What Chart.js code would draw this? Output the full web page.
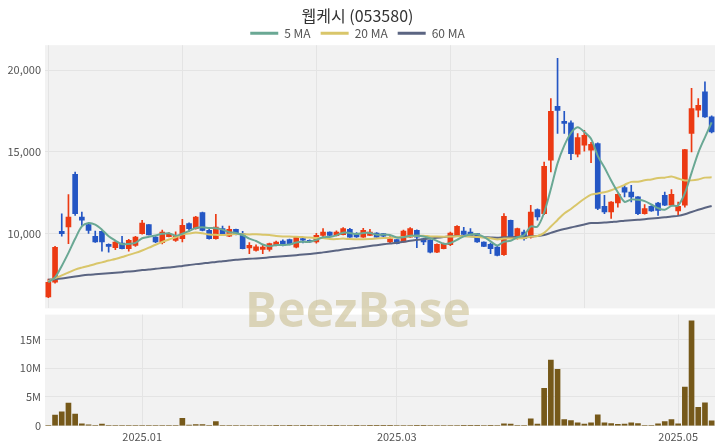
<!DOCTYPE html>
<html><head><meta charset="utf-8">
<script src="https://cdn.jsdelivr.net/npm/chart.js@4/dist/chart.umd.min.js"></script>
<style>
html,body{margin:0;padding:0;background:#fff;}
#wrap{position:relative;width:720px;height:448px;overflow:hidden;}
#c1{position:absolute;left:0;top:0;}
#c2{position:absolute;left:0;top:304px;}
#wm{position:absolute;left:0;width:716px;top:280px;text-align:center;font-family:'Open Sans',sans-serif;font-weight:700;font-size:48px;line-height:58px;color:rgba(200,188,140,0.58);pointer-events:none;}
</style></head><body>
<div id="wrap">
<canvas id="c1" width="720" height="319"></canvas>
<canvas id="c2" width="720" height="144"></canvas>
<div id="wm">BeezBase</div>
</div>
<script>
const dates = [
'2024-12-10','2024-12-11','2024-12-12','2024-12-13','2024-12-16','2024-12-17','2024-12-18','2024-12-19','2024-12-20','2024-12-23',
'2024-12-24','2024-12-26','2024-12-27','2024-12-30','2025-01-02','2025-01-03','2025-01-06','2025-01-07','2025-01-08','2025-01-09',
'2025-01-10','2025-01-13','2025-01-14','2025-01-15','2025-01-16','2025-01-17','2025-01-20','2025-01-21','2025-01-22','2025-01-23',
'2025-01-24','2025-01-31','2025-02-03','2025-02-04','2025-02-05','2025-02-06','2025-02-07','2025-02-10','2025-02-11','2025-02-12',
'2025-02-13','2025-02-14','2025-02-17','2025-02-18','2025-02-19','2025-02-20','2025-02-21','2025-02-24','2025-02-25','2025-02-26',
'2025-02-27','2025-02-28','2025-03-04','2025-03-05','2025-03-06','2025-03-07','2025-03-10','2025-03-11','2025-03-12','2025-03-13',
'2025-03-14','2025-03-17','2025-03-18','2025-03-19','2025-03-20','2025-03-21','2025-03-24','2025-03-25','2025-03-26','2025-03-27',
'2025-03-28','2025-03-31','2025-04-01','2025-04-02','2025-04-03','2025-04-04','2025-04-07','2025-04-08','2025-04-09','2025-04-10',
'2025-04-11','2025-04-14','2025-04-15','2025-04-16','2025-04-17','2025-04-18','2025-04-21','2025-04-22','2025-04-23','2025-04-24',
'2025-04-25','2025-04-28','2025-04-29','2025-04-30','2025-05-02','2025-05-07','2025-05-08','2025-05-09','2025-05-12','2025-05-13'];

const openP = [6100,7000,10120,10390,13620,11000,10530,9820,10120,9320,
 9120,9400,9060,9260,9980,10530,9770,9430,9800,9570,
 9680,10600,10290,11270,10180,9680,10290,9830,10240,9980,
 9100,8950,9020,9020,9260,9530,9610,9160,9680,9570,
 9470,9880,10080,9860,9920,10250,9980,9770,9880,10020,
 9980,9470,9610,9470,9770,10180,9670,9570,8850,9060,
 9310,9820,10140,10080,9980,9460,9330,9160,8700,10800,
 9680,10080,9770,11450,11210,14480,17790,16870,16770,14850,
 15400,15090,15500,11660,11310,11860,12800,12530,12230,11210,
 11660,11860,12330,11720,11370,11720,16120,17550,18670,17140];
const highP = [7200,9200,11200,12370,13760,11300,10600,10140,10150,9350,
 9520,9820,9630,9820,10800,10540,9800,10200,10050,10100,
 10860,10650,11050,11300,10350,11170,10450,10450,10260,10120,
 9430,9300,9310,9400,9520,9600,9650,9800,9700,9600,
 10000,10290,10100,10150,10350,10300,10050,10300,10250,10050,
 10000,9800,9620,10200,10350,10220,9700,9600,9350,9400,
 10080,10480,10370,10290,10000,9480,9400,9200,11210,10820,
 10320,10200,11720,11500,14370,18260,20720,17480,16890,16120,
 16320,15580,15550,12330,11950,12420,12940,12940,12260,11760,
 11700,11900,12530,12680,11920,15150,18880,18260,19280,17200];
const lowP = [6050,6950,9820,9370,11100,10490,10000,9450,8910,8850,
 9000,9050,8910,9200,9950,9900,9430,9350,9780,9500,
 9470,10120,10250,10150,9650,9650,9850,9800,9900,9040,
 8750,8900,8760,8900,9230,9230,9290,9100,9420,9450,
 9400,9770,9850,9840,9900,9750,9750,9750,9850,9750,
 9800,9400,9350,9450,9750,9120,9300,8800,8820,9040,
 9250,9800,9920,9860,9450,9180,8760,8620,8650,9750,
 9650,9580,9700,10800,11150,13760,16120,16120,14520,14690,
 15030,14330,11450,11200,10920,11610,12230,11920,11150,11180,
 11350,11100,11700,11700,11100,11600,14990,17140,17100,16150];
const closeP = [7000,9150,9980,11000,11210,10800,10180,9470,9470,9200,
 9470,9060,9570,9770,10630,9910,9470,10080,9950,9880,
 10490,10290,11000,10180,9680,10390,9880,10240,9920,9060,
 9260,9180,9160,9370,9470,9260,9310,9770,9580,9470,
 9880,10080,9880,10080,10290,9770,9780,10180,10080,9770,
 9820,9670,9370,10140,10290,9770,9470,8850,9330,9370,
 10020,10430,9940,9880,9470,9200,9060,8650,11040,9770,
 10290,9680,11310,11000,14110,17480,17540,16730,14890,15870,
 16010,15460,11520,11310,11920,12390,12530,12230,11210,11520,
 11370,11410,11720,12390,11660,15130,17650,17850,17140,16210];
const volume = [50000,1870000,2430000,3960000,2040000,340000,170000,100000,300000,80000,
 70000,60000,60000,90000,80000,70000,60000,50000,50000,50000,
 1300000,120000,220000,200000,80000,740000,90000,80000,60000,100000,
 90000,60000,50000,50000,40000,50000,40000,60000,40000,30000,
 50000,60000,40000,40000,50000,60000,40000,60000,40000,30000,
 30000,40000,50000,60000,70000,40000,30000,70000,60000,50000,
 60000,70000,40000,30000,40000,50000,40000,60000,340000,300000,
 100000,80000,1200000,300000,6500000,11400000,9800000,1100000,900000,500000,
 300000,500000,1900000,500000,400000,250000,300000,500000,400000,100000,
 100000,350000,750000,1100000,350000,6700000,18200000,3200000,4000000,850000];
const ma5 = [7000,7300,8000,8800,9668,10428,10634,10532,10226,9824,
 9558,9334,9354,9414,9700,9788,9870,9972,10008,9858,
 9974,10138,10322,10368,10328,10308,10226,10074,10022,9898,
 9672,9532,9316,9206,9288,9288,9314,9436,9478,9478,
 9602,9756,9778,9878,10042,10020,9960,10020,10020,9916,
 9926,9904,9742,9754,9858,9848,9808,9704,9542,9358,
 9408,9600,9818,9928,9948,9784,9510,9252,9484,9544,
 9762,9886,10418,10410,11278,12716,14288,15372,16150,16502,
 16208,15792,14750,14034,13244,12520,11934,12076,12056,11976,
 11772,11548,11446,11682,11710,12462,13708,14936,15886,16796];
const ma20 = [7050,7250,7420,7600,7780,7900,8000,8120,8220,8330,
 8430,8550,8680,8800,8950,9120,9300,9470,9620,9763,
 9937,9994,10045,10004,9928,9907,9892,9931,9953,9946,
 9936,9942,9921,9901,9843,9811,9803,9787,9769,9748,
 9718,9707,9651,9646,9677,9646,9641,9638,9646,9681,
 9709,9734,9744,9783,9824,9849,9857,9811,9799,9794,
 9801,9818,9821,9811,9770,9742,9706,9629,9677,9677,
 9701,9701,9798,9841,10032,10418,10821,11215,11493,11818,
 12118,12369,12448,12520,12642,12802,12975,13154,13163,13250,
 13304,13391,13411,13481,13358,13241,13246,13302,13415,13432];
const ma60 = [7160,7189,7232,7292,7355,7412,7458,7493,7527,7557,
 7592,7619,7655,7695,7749,7790,7825,7869,7912,7953,
 8005,8053,8113,8159,8197,8247,8288,8335,8377,8405,
 8436,8465,8495,8528,8562,8593,8625,8664,8700,8735,
 8776,8833,8887,8944,9005,9056,9109,9167,9224,9276,
 9329,9379,9424,9482,9543,9594,9642,9678,9723,9768,
 9818,9840,9839,9820,9791,9765,9746,9732,9759,9768,
 9782,9792,9821,9842,9900,10026,10160,10271,10353,10453,
 10545,10631,10640,10659,10696,10730,10774,10807,10828,10869,
 10905,10942,10984,11035,11071,11169,11308,11443,11569,11681];

const xTickMonths = ['2025-01','2025-03','2025-05'];
const xTickLabels = ['2025.01','2025.03','2025.05'];
const priceTicks = [10000,15000,20000];
const volumeTicks = [0,5000000,10000000,15000000];

const UP = '#ec3a13', DOWN = '#2456c4';
const GRID = '#e4e4e4';
const candleColor = closeP.map((c,i)=> c >= openP[i] ? UP : DOWN);
const xTickIdx = xTickMonths.map(m => dates.findIndex(d => d.startsWith(m)));

Chart.defaults.font.family = "'Noto Sans CJK KR','Noto Sans',sans-serif";
Chart.defaults.color = '#555';

const bgPlugin = {id:'plotbg', beforeDraw(chart){
  const {ctx, chartArea:a} = chart;
  ctx.save(); ctx.fillStyle = '#f2f2f2'; ctx.fillRect(a.left, a.top, a.width, a.height); ctx.restore();
}};

new Chart(document.getElementById('c1'), {
  type: 'bar',
  data: {
    labels: dates,
    datasets: [
      {type:'line', label:'5 MA', data:ma5, borderColor:'#6aa894', backgroundColor:'#6aa894', borderWidth:2, pointRadius:0, tension:0.3, order:0},
      {type:'line', label:'20 MA', data:ma20, borderColor:'#d9c66a', backgroundColor:'#d9c66a', borderWidth:2, pointRadius:0, tension:0.3, order:0},
      {type:'line', label:'60 MA', data:ma60, borderColor:'#5b6582', backgroundColor:'#5b6582', borderWidth:2, pointRadius:0, tension:0.3, order:0},
      {label:'body', data:openP.map((o,i)=>[o, closeP[i]]), backgroundColor:candleColor, barThickness:5, grouped:false, order:1},
      {label:'wick', data:lowP.map((l,i)=>[l, highP[i]]), backgroundColor:candleColor, barThickness:1, grouped:false, order:2}
    ]
  },
  options: {
    responsive:false, animation:false, devicePixelRatio:1,
    layout:{padding:{left:0, right:5, top:0, bottom:1}},
    plugins:{
      title:{display:true, text:'웹케시 (053580)', color:'#333', font:{size:16, weight:'normal'}, padding:{top:6, bottom:-8}},
      legend:{display:true, maxHeight:28, labels:{
        color:'#555', font:{size:12}, boxWidth:28, boxHeight:3, padding:10,
        filter:(it)=>/MA/.test(it.text),
        generateLabels:(chart)=> chart.data.datasets.map((d,i)=>({text:d.label, fillStyle:d.borderColor, strokeStyle:d.borderColor, lineWidth:0, datasetIndex:i, hidden:false, fontColor:'#555'}))
      }},
      tooltip:{enabled:false}
    },
    scales:{
      x:{grid:{offset:false, color:(c)=> (c.index % 20 === 0) ? GRID : 'rgba(0,0,0,0)', drawTicks:false}, ticks:{display:false}, border:{display:false}},
      y:{min:5400, max:21530,
         afterBuildTicks:(s)=>{ s.ticks = priceTicks.map(v=>({value:v})); },
         afterFit:(s)=>{ s.width = 45; },
         ticks:{callback:(v)=> Number(v).toLocaleString('en-US'), color:'#555', font:{size:11}, padding:4},
         grid:{color:GRID, drawTicks:false}, border:{display:false}}
    }
  },
  plugins:[bgPlugin]
});

new Chart(document.getElementById('c2'), {
  type: 'bar',
  data: {labels: dates, datasets:[{label:'Volume', data:volume, backgroundColor:'#76591a', barThickness:5}]},
  options: {
    responsive:false, animation:false, devicePixelRatio:1,
    layout:{padding:{left:0, right:5, top:0, bottom:1}},
    plugins:{legend:{display:false}, title:{display:false}, tooltip:{enabled:false}},
    scales:{
      x:{grid:{offset:false, color:(c)=> xTickIdx.includes(c.index) ? GRID : 'rgba(0,0,0,0)', drawTicks:false},
         ticks:{autoSkip:false, maxRotation:0, color:'#555', font:{size:11}, padding:4,
                callback:(v,i)=>{ const k = xTickIdx.indexOf(i); return k >= 0 ? xTickLabels[k] : ''; }},
         border:{display:false}},
      y:{min:0, max:19300000,
         afterBuildTicks:(s)=>{ s.ticks = volumeTicks.map(v=>({value:v})); },
         afterFit:(s)=>{ s.width = 45; },
         ticks:{callback:(v)=> v === 0 ? '0' : (v/1000000) + 'M', color:'#555', font:{size:11}, padding:4},
         grid:{color:GRID, drawTicks:false}, border:{display:false}}
    }
  },
  plugins:[bgPlugin]
});
</script>
</body></html>
